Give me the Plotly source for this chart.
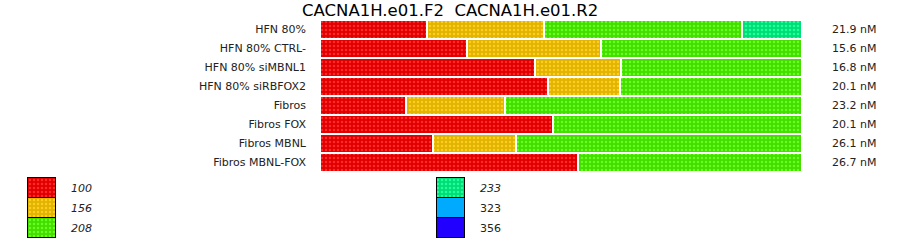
import plotly.graph_objects as go

# ---- data ----
categories = ["HFN 80%", "HFN 80% CTRL-", "HFN 80% siMBNL1", "HFN 80% siRBFOX2",
              "Fibros", "Fibros FOX", "Fibros MBNL", "Fibros MBNL-FOX"]
s100 = [22.3, 30.6, 44.6, 47.3, 17.9, 48.3, 23.5, 53.5]
s156 = [24.2, 27.7, 17.9, 15.0, 20.4, None, 17.1, None]
s208 = [41.0, 41.7, 37.5, 37.7, 61.7, 51.7, 59.4, 46.5]
s233 = [12.5, None, None, None, None, None, None, None]
conc_labels = ["21.9 nM", "15.6 nM", "16.8 nM", "20.1 nM", "23.2 nM", "20.1 nM", "26.1 nM", "26.7 nM"]
title_text = "CACNA1H.e01.F2  CACNA1H.e01.R2"

legend_keys = ["100", "156", "208", "233", "323", "356"]
legend_italic = [True, True, True, True, False, False]
legend_patterned = [True, True, True, True, False, False]

# ---- styles ----
bg_colors = {"100": "#E00000", "156": "#E0B400", "208": "#44DD00", "233": "#00DD77",
             "323": "#00AAFF", "356": "#2200FF"}
dot_colors = {"100": "#FF2a2a", "156": "#FFCC22", "208": "#66FF22", "233": "#22FF99"}

W, H = 900, 242
FONT = "DejaVu Sans"
PAT_SIZE = 4
PAT_SOLID = 0.3

fig = go.Figure()

series = {"100": s100, "156": s156, "208": s208, "233": s233}
for key, vals in series.items():
    fig.add_trace(go.Bar(
        y=categories, x=vals, orientation="h", name=key,
        marker=dict(color=bg_colors[key],
                    line=dict(color="white", width=2),
                    pattern=dict(shape=".", fgcolor=dot_colors[key], bgcolor=bg_colors[key],
                                 size=PAT_SIZE, solidity=PAT_SOLID, fillmode="replace")),
        showlegend=False, hoverinfo="skip",
    ))

# legend swatches on a pixel-scaled axis below the bars
LEG_TOP = 170
col_x = [27, 27, 27, 436, 436, 436]
row_y = [178, 198, 218, 178, 198, 218]
for i, key in enumerate(legend_keys):
    mk = dict(color=bg_colors[key], line=dict(color="black", width=1))
    if legend_patterned[i]:
        mk["pattern"] = dict(shape=".", fgcolor=dot_colors[key], bgcolor=bg_colors[key],
                             size=PAT_SIZE, solidity=PAT_SOLID, fillmode="replace")
    fig.add_trace(go.Bar(
        x=[col_x[i] + 14.5], y=[20], base=[row_y[i]], width=[28],
        xaxis="x2", yaxis="y2", marker=mk, showlegend=False, hoverinfo="skip",
    ))
    txt = f"<i>{key}</i>" if legend_italic[i] else key
    fig.add_annotation(x=col_x[i] + 42, y=row_y[i] + 10, xref="x2", yref="y2",
                       text=txt, showarrow=False, xanchor="left", yanchor="middle",
                       font=dict(family=FONT, size=11, color="#222222"))

for cat, lab in zip(categories, conc_labels):
    fig.add_annotation(x=830 / W, y=cat, xref="paper", yref="y", text=lab,
                       showarrow=False, xanchor="left", yanchor="middle",
                       font=dict(family=FONT, size=11, color="#222222"))

fig.add_annotation(x=450 / W, y=1 - 11 / H, xref="paper", yref="paper", text=title_text,
                   showarrow=False, xanchor="center", yanchor="middle",
                   font=dict(family=FONT, size=16.5, color="black"))

fig.update_layout(
    width=W, height=H, margin=dict(l=0, r=0, t=0, b=0),
    paper_bgcolor="white", plot_bgcolor="rgba(0,0,0,0)",
    barmode="stack", bargap=0,
    xaxis=dict(domain=[320 / W, 802 / W], range=[0, 100], visible=False, fixedrange=True),
    yaxis=dict(domain=[(H - 172) / H, (H - 20) / H], autorange="reversed",
               showgrid=False, zeroline=False, showline=False, ticks="",
               ticklabelstandoff=13,
               tickfont=dict(family=FONT, size=11, color="#222222")),
    xaxis2=dict(domain=[0, 1], range=[0, W], visible=False, anchor="y2"),
    yaxis2=dict(domain=[0, (H - LEG_TOP) / H], range=[H, LEG_TOP], visible=False, anchor="x2"),
    showlegend=False,
)

fig.write_html("out.html")
